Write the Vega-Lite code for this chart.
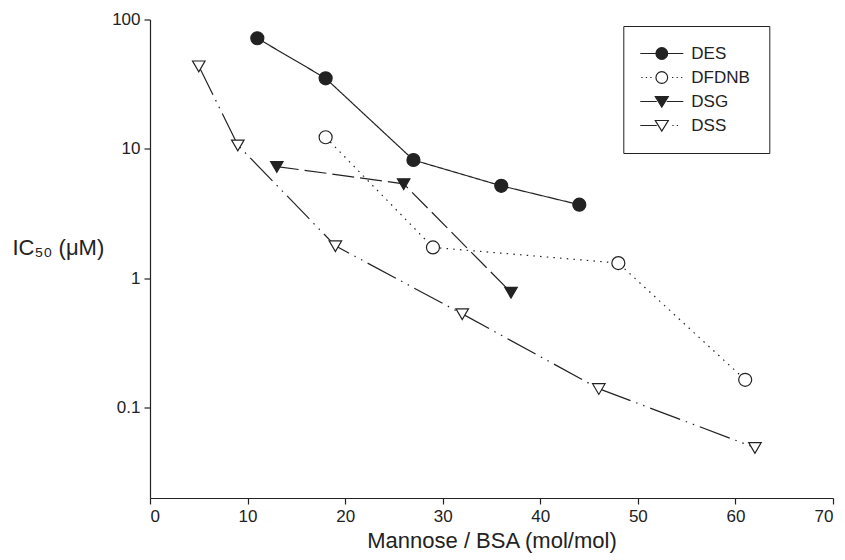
{
  "$schema": "https://vega.github.io/schema/vega-lite/v6.json",
  "autosize": "none",
  "width": 683,
  "height": 478.5,
  "padding": {"left": 150, "top": 19.5, "right": 12, "bottom": 62},
  "background": "white",
  "config": {
    "font": "Liberation Sans",
    "view": {"stroke": null},
    "axis": {
      "domainColor": "#222",
      "tickColor": "#222",
      "labelColor": "#222",
      "titleColor": "#222",
      "labelFont": "Liberation Sans",
      "titleFont": "Liberation Sans",
      "labelFontSize": 17,
      "titleFontSize": 22,
      "titleFontWeight": "normal",
      "tickSize": 6,
      "grid": false,
      "domainWidth": 1.2,
      "tickWidth": 1.2
    },
    "legend": {
      "orient": "none",
      "legendX": 473.3,
      "legendY": 6.5,
      "strokeColor": "#222",
      "padding": 19,
      "symbolOffset": 11,
      "labelOffset": 21,
      "labelFontSize": 17,
      "labelFont": "Liberation Sans",
      "labelColor": "#222",
      "symbolSize": 100,
      "symbolStrokeWidth": 1.2,
      "symbolStrokeColor": "#222",
      "rowPadding": 6
    }
  },
  "data": {
    "values": [
      {"series": "DES", "x": 11, "y": 71.6},
      {"series": "DES", "x": 18, "y": 35.1},
      {"series": "DES", "x": 27, "y": 8.2},
      {"series": "DES", "x": 36, "y": 5.18},
      {"series": "DES", "x": 44, "y": 3.7},
      {"series": "DFDNB", "x": 18, "y": 12.3},
      {"series": "DFDNB", "x": 29, "y": 1.73},
      {"series": "DFDNB", "x": 48, "y": 1.31},
      {"series": "DFDNB", "x": 61, "y": 0.164},
      {"series": "DSG", "x": 13, "y": 7.3},
      {"series": "DSG", "x": 26, "y": 5.37},
      {"series": "DSG", "x": 37, "y": 0.777},
      {"series": "DSS", "x": 5, "y": 43.7},
      {"series": "DSS", "x": 9, "y": 10.7},
      {"series": "DSS", "x": 19, "y": 1.78},
      {"series": "DSS", "x": 32, "y": 0.53},
      {"series": "DSS", "x": 46, "y": 0.14},
      {"series": "DSS", "x": 62, "y": 0.049}
    ]
  },
  "encoding": {
    "x": {
      "field": "x", "type": "quantitative",
      "scale": {"domain": [0, 70], "nice": false, "zero": false},
      "axis": {"values": [0, 10, 20, 30, 40, 50, 60, 70], "title": "Mannose / BSA (mol/mol)", "labelPadding": 4, "titlePadding": 6}
    },
    "y": {
      "field": "y", "type": "quantitative",
      "scale": {"type": "log", "domain": [0.02, 100], "nice": false},
      "axis": {
        "values": [0.1, 1, 10, 100], "format": "~g",
        "title": "IC₅₀ (μM)", "titleAngle": 0, "titleAlign": "left",
        "titleBaseline": "alphabetic", "titleX": -138, "titleY": 234.5,
        "labelPadding": 4
      }
    }
  },
  "layer": [
    {
      "mark": {"type": "line", "color": "#222", "strokeWidth": 1.2},
      "encoding": {
        "strokeDash": {
          "field": "series", "type": "nominal",
          "scale": {"domain": ["DES", "DFDNB", "DSG", "DSS"], "range": [[1, 0], [1.5, 5.2], [22, 6], [32, 6, 1.5, 6, 1.5, 6]]},
          "legend": null
        }
      }
    },
    {
      "mark": {"type": "point", "stroke": "#222", "strokeWidth": 1.2, "opacity": 1, "size": 100},
      "encoding": {
        "shape": {
          "field": "series", "type": "nominal",
          "scale": {"domain": ["DES", "DFDNB", "DSG", "DSS"], "range": [
            "M-1.3,0A1.3,1.3,0,1,0,1.3,0A1.3,1.3,0,1,0,-1.3,0Z",
            "M-1.3,0A1.3,1.3,0,1,0,1.3,0A1.3,1.3,0,1,0,-1.3,0Z",
            "M-1.25,-1L1.25,-1L0,1.15Z",
            "M-1.25,-1L1.25,-1L0,1.15Z"
          ]},
          "legend": null
        },
        "fill": {
          "field": "series", "type": "nominal",
          "scale": {"domain": ["DES", "DFDNB", "DSG", "DSS"], "range": ["#222", "white", "#222", "white"]},
          "legend": null
        }
      }
    },
    {
      "transform": [{"filter": "false"}],
      "mark": {"type": "point", "filled": true, "strokeWidth": 1.2, "opacity": 1, "size": 100},
      "encoding": {
        "shape": {
          "field": "series", "type": "nominal",
          "scale": {"domain": ["DES", "DFDNB", "DSG", "DSS"], "range": [
            "M-4.3,0L-1.17,0M1.17,0L4.3,0M-1.17,0A1.17,1.17,0,1,0,1.17,0A1.17,1.17,0,1,0,-1.17,0Z",
            "M-4.1,0L-3.85,0M-3.2,0L-2.95,0M-2.3,0L-2.05,0M2.05,0L2.3,0M2.95,0L3.2,0M3.85,0L4.1,0M-1.17,0A1.17,1.17,0,1,0,1.17,0A1.17,1.17,0,1,0,-1.17,0Z",
            "M-4.3,0L-1,0M1,0L4.3,0M-1.3,-1L1.3,-1L0,1.1Z",
            "M-4.3,0L-1,0M2.1,0L2.35,0M3.0,0L3.25,0M-1.3,-1L1.3,-1L0,1.1Z"
          ]},
          "legend": {"title": null}
        },
        "fill": {
          "field": "series", "type": "nominal",
          "scale": {"domain": ["DES", "DFDNB", "DSG", "DSS"], "range": ["#222", "white", "#222", "white"]},
          "legend": {"title": null}
        },
        "stroke": {
          "field": "series", "type": "nominal",
          "scale": {"domain": ["DES", "DFDNB", "DSG", "DSS"], "range": ["#222", "#222", "#222", "#222"]},
          "legend": {"title": null}
        }
      }
    }
  ],
  "resolve": {"scale": {"shape": "independent", "fill": "independent", "stroke": "independent"}}
}
